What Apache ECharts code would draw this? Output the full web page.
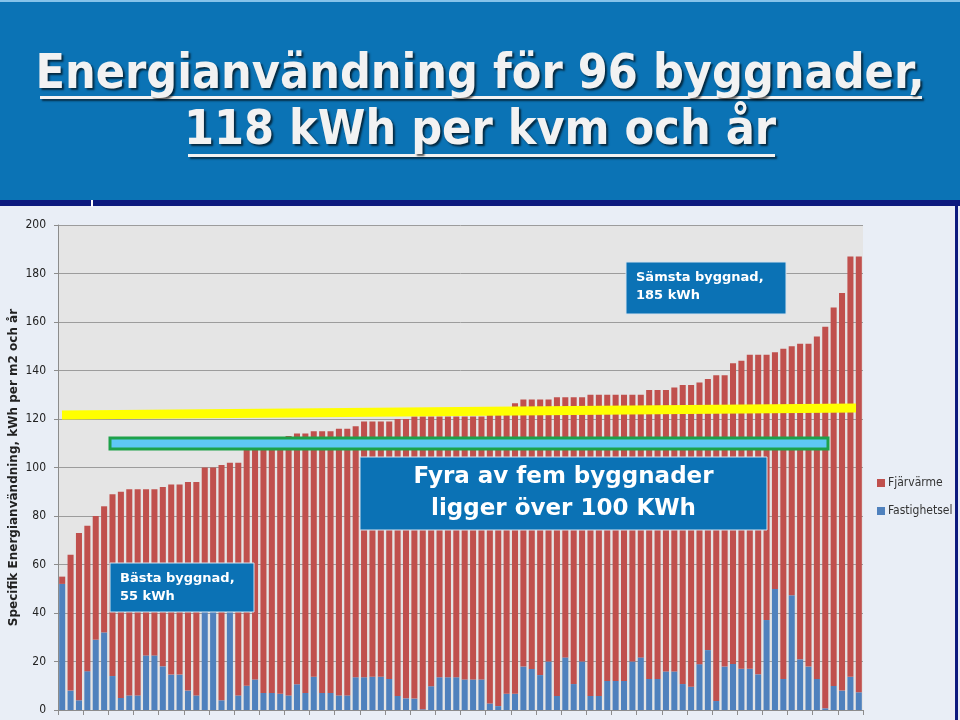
<!DOCTYPE html>
<html>
<head>
<meta charset="utf-8">
<script src="https://cdn.jsdelivr.net/npm/echarts@6/dist/echarts.min.js"></script>
<style>
  html, body { margin: 0; padding: 0; background: #e9eef6; }
  #chart { width: 960px; height: 720px; }
</style>
</head>
<body>
<div id="chart"></div>
<script>
// Fastighetsel (blå, nederst), kWh per m2 och år, byggnad 1..96
const fastighetsel = [52, 8, 4, 16, 29, 32, 14, 5, 6, 6,
  22.5, 22.5, 18, 14.6, 14.6, 8, 6, 45, 45, 4,
  45, 6, 10, 12.6, 7, 7, 6.7, 6, 10.6, 7,
  13.7, 7, 7, 6, 6, 13.5, 13.5, 13.7, 13.7, 12.8,
  5.8, 4.8, 4.7, 0.3, 9.8, 13.5, 13.5, 13.5, 12.6, 12.6,
  12.6, 2.7, 1.6, 6.7, 6.7, 17.9, 16.9, 14.4, 20, 5.8,
  21.7, 10.7, 20, 5.8, 5.8, 12, 12, 12, 20, 21.7,
  12.8, 12.8, 15.9, 15.9, 10.7, 9.6, 18.9, 24.7, 3.7, 17.9,
  19, 17, 17, 14.7, 37.1, 49.9, 12.8, 47.3, 20.9, 17.9,
  12.8, 0.7, 9.9, 8, 13.7, 7.3]

// Fjärrvärme (röd, ovanpå)
const fjarrvarme = [3, 56, 69, 60, 51, 52, 75, 85, 85, 85,
  68.5, 68.5, 74, 78.4, 78.4, 86, 88, 55, 55, 97,
  57, 96, 98, 96.4, 103, 104, 105.3, 107, 103.4, 107,
  101.3, 108, 108, 110, 110, 103.5, 105.5, 105.3, 105.3, 106.2,
  114.2, 115.2, 116.3, 120.7, 111.2, 107.5, 107.5, 107.5, 108.4, 108.4,
  108.4, 121.3, 123.4, 118.3, 119.8, 110.1, 111.1, 113.6, 108, 123.2,
  107.3, 118.3, 109, 124.2, 124.2, 118, 118, 118, 110, 108.3,
  119.2, 119.2, 116.1, 117.1, 123.3, 124.4, 116.1, 111.8, 134.3, 120.1,
  124, 127, 129.5, 131.8, 109.4, 97.6, 136.2, 102.7, 130.1, 133.1,
  141.2, 157.3, 156.1, 164, 173.3, 179.7]

const buildings = fastighetsel.map((v, i) => String(i + 1))

const titleLines = ['Energianvändning för 96 byggnader,', '118 kWh per kvm och år']
const yName = 'Specifik Energianvändning, kWh per m2 och år'

const chart = echarts.init(document.getElementById('chart'))

const titleStyle = {
  fontFamily: 'DejaVu Sans Condensed',
  fontWeight: 'bold',
  fontSize: 48,
  color: '#f2f2f2',
  textShadowColor: 'rgba(0,0,0,0.65)',
  textShadowBlur: 2,
  textShadowOffsetX: 2,
  textShadowOffsetY: 2
}

// annoteringsrutor
function noteBox(x, y, w, h, text, font, center) {
  return [
    {
      type: 'rect', z: 20,
      shape: { x: x, y: y, width: w, height: h },
      style: { fill: '#0b72b5', stroke: '#d5e2ee', lineWidth: 1 }
    },
    {
      type: 'text', z: 21,
      x: center ? x + w / 2 : x + 10,
      y: center ? y + h / 2 : y + 7,
      style: {
        text: text,
        font: font,
        fill: '#ffffff',
        lineHeight: center ? 32 : 18,
        align: center ? 'center' : 'left',
        verticalAlign: center ? 'middle' : 'top'
      }
    }
  ]
}

chart.setOption({
  backgroundColor: '#e9eef6',
  title: [
    { text: titleLines[0], left: 'center', top: 47, textStyle: titleStyle },
    { text: titleLines[1], left: 'center', top: 103, textStyle: titleStyle }
  ],
  legend: {
    data: ['Fjärvärme', 'Fastighetsel'],
    orient: 'vertical',
    left: 872,
    top: 472,
    itemWidth: 8,
    itemHeight: 8,
    itemGap: 16,
    itemStyle: { borderWidth: 0 },
    icon: 'rect',
    textStyle: { fontFamily: 'DejaVu Sans Condensed', fontSize: 12, color: '#333', padding: [0, 0, 0, -2] }
  },
  grid: {
    left: 58, right: 97, top: 225, bottom: 10,
    outerBoundsMode: 'none',
    containLabel: false,
    show: true, backgroundColor: '#e5e5e5', borderWidth: 0
  },
  xAxis: {
    type: 'category',
    data: buildings,
    axisLine: { lineStyle: { color: '#8c8c8c' } },
    axisTick: { show: true, length: 5, lineStyle: { color: '#8c8c8c' } },
    axisLabel: { show: false }
  },
  yAxis: {
    type: 'value',
    min: 0, max: 200, interval: 20,
    name: yName,
    nameLocation: 'middle',
    nameGap: 38,
    nameMoveOverlap: false,
    nameTextStyle: { fontFamily: 'DejaVu Sans', fontWeight: 'bold', fontSize: 12, color: '#222' },
    axisLine: { show: true, lineStyle: { color: '#8c8c8c' } },
    axisTick: { show: true, length: 4, lineStyle: { color: '#8c8c8c' } },
    axisLabel: { fontFamily: 'DejaVu Sans Condensed', fontSize: 12, color: '#222', margin: 12 },
    splitLine: { lineStyle: { color: '#9c9c9c' } }
  },
  series: [
    {
      name: 'Fastighetsel', type: 'bar', stack: 'tot',
      data: fastighetsel, barWidth: '72%',
      itemStyle: { color: '#4f81bd' }
    },
    {
      name: 'Fjärvärme', type: 'bar', stack: 'tot',
      data: fjarrvarme, barWidth: '72%',
      itemStyle: { color: '#c0504d' }
    }
  ],
  graphic: [
    // rubrikfält
    { type: 'rect', z: -10, shape: { x: 0, y: 0, width: 960, height: 200 }, style: { fill: '#0b73b5' } },
    { type: 'rect', z: -9, shape: { x: 0, y: 0, width: 960, height: 2 }, style: { fill: '#86c3ea' } },
    { type: 'rect', z: -9, shape: { x: 0, y: 200, width: 960, height: 6 }, style: { fill: '#0c1a7e' } },
    { type: 'rect', z: -8, shape: { x: 91, y: 200, width: 2, height: 7 }, style: { fill: '#ffffff' } },
    { type: 'rect', z: -9, shape: { x: 955, y: 206, width: 3, height: 514 }, style: { fill: '#0c1a7e' } },
    // understrykningar
    { type: 'rect', z: 5, shape: { x: 40, y: 96, width: 882, height: 3 },
      style: { fill: '#f2f2f2', shadowColor: 'rgba(0,0,0,0.6)', shadowOffsetX: 2, shadowOffsetY: 2, shadowBlur: 2 } },
    { type: 'rect', z: 5, shape: { x: 188, y: 154, width: 587, height: 3 },
      style: { fill: '#f2f2f2', shadowColor: 'rgba(0,0,0,0.6)', shadowOffsetX: 2, shadowOffsetY: 2, shadowBlur: 2 } },
    // gul linje
    { type: 'line', z: 15, shape: { x1: 62, y1: 415, x2: 856, y2: 408 },
      style: { stroke: '#ffff00', lineWidth: 9 } },
    // ljusblå ruta
    { type: 'rect', z: 15, shape: { x: 110, y: 438, width: 718, height: 11 },
      style: { fill: '#5ec8f5', stroke: '#1ea14a', lineWidth: 3 } }
  ]
    .concat(noteBox(626, 262, 160, 52, 'Sämsta byggnad,\n185 kWh', 'bold 13px "DejaVu Sans"', false))
    .concat(noteBox(110, 563, 144, 49, 'Bästa byggnad,\n55 kWh', 'bold 13px "DejaVu Sans"', false))
    .concat(noteBox(360, 457, 407, 73, 'Fyra av fem byggnader\nligger över 100 KWh', 'bold 23px "DejaVu Sans"', true))
})
</script>
</body>
</html>
